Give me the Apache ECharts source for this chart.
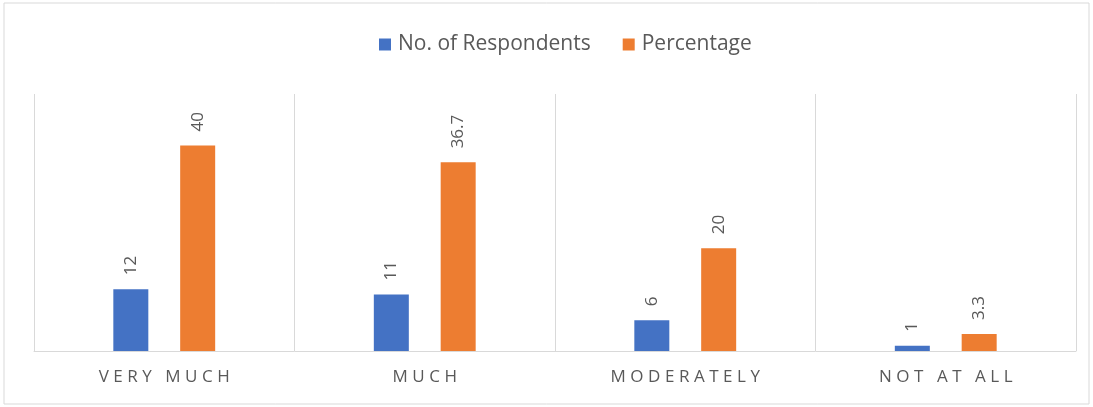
<!DOCTYPE html>
<html>
<head>
<meta charset="utf-8">
<script src="https://cdn.jsdelivr.net/npm/echarts@6/dist/echarts.min.js"></script>
<style>
  html, body { margin: 0; padding: 0; background: #fff; }
  #chart { width: 1093px; height: 407px; }
</style>
</head>
<body>
<div id="chart"></div>
<script>
const categories = ['VERY MUCH', 'MUCH', 'MODERATELY', 'NOT AT ALL']
const respondents = [12, 11, 6, 1]
const percentage = [40, 36.7, 20, 3.3]

const TEXT = '#595959'
const GRID = '#d9d9d9'
const FONT = '"Open Sans", "Liberation Sans", sans-serif'

const chart = echarts.init(document.getElementById('chart'))

// excel spreads the axis letters out, fake it with thin spaces
const spread = (s) => s.split('').join('\u2009\u200a')

const barLabel = {
  show: true,
  position: 'top',
  rotate: 90,
  align: 'left',
  verticalAlign: 'middle',
  distance: 14,
  color: TEXT,
  fontFamily: FONT,
  fontSize: 17
}

const option = {
  animation: false,
  textStyle: { fontFamily: FONT },
  graphic: [{
    type: 'rect',
    shape: { x: 4, y: 3, width: 1085, height: 401 },
    style: { fill: 'none', stroke: GRID, lineWidth: 1 },
    silent: true
  }],
  legend: {
    top: 29,
    left: 374,
    itemWidth: 12,
    itemHeight: 12,
    itemGap: 32,
    icon: 'rect',
    textStyle: { color: TEXT, fontSize: 21, fontFamily: FONT, padding: [0, 0, 0, 2] }
  },
  grid: { left: 34, right: 17, top: 94, bottom: 56, containLabel: false },
  xAxis: {
    type: 'category',
    data: categories,
    axisLine: { lineStyle: { color: GRID } },
    axisTick: { show: false },
    splitLine: { show: true, lineStyle: { color: GRID } },
    axisLabel: {
      color: TEXT,
      fontSize: 17,
      fontFamily: FONT,
      margin: 18,
      formatter: spread
    }
  },
  yAxis: {
    type: 'value',
    min: 0,
    max: 50,
    show: false
  },
  series: [
    {
      name: 'No. of Respondents',
      type: 'bar',
      data: respondents,
      barWidth: 35,
      barGap: '91%',
      itemStyle: { color: '#4472C4' },
      label: barLabel
    },
    {
      name: 'Percentage',
      type: 'bar',
      data: percentage,
      barWidth: 35,
      itemStyle: { color: '#ED7D31' },
      label: barLabel
    }
  ]
}

chart.setOption(option)
</script>
</body>
</html>
